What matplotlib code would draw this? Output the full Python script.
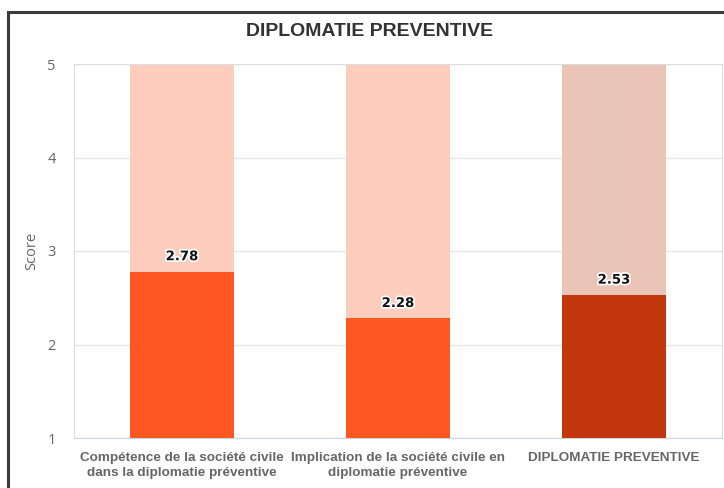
import matplotlib
matplotlib.use('Agg')
import matplotlib.pyplot as plt
import matplotlib.patheffects as pe
from matplotlib.patches import Rectangle

categories = [
    'Compétence de la société civile\ndans la diplomatie préventive',
    'Implication de la société civile en\ndiplomatie préventive',
    'DIPLOMATIE PREVENTIVE',
]
scores = [2.78, 2.28, 2.53]
score_max = 5
score_min = 1
bar_colors = ['#ff5722', '#ff5722', '#c1360c']
track_colors = ['#ffcdbd', '#ffcdbd', '#ebc4b8']
y_ticks = [1, 2, 3, 4, 5]

fig = plt.figure(figsize=(7.24, 4.88), dpi=100)
fig.patch.set_facecolor('white')

# outer frame around the chart
fig.patches.append(Rectangle((7.5 / 724, -0.05), 1.2, 1 - 12.5 / 488 + 0.05,
                             transform=fig.transFigure, fill=False,
                             edgecolor='#3a3a3a', linewidth=2.2, zorder=0))

ax = fig.add_axes([74 / 724, 1 - 438 / 488, (722 - 74) / 724, (438 - 64) / 488])

x = list(range(len(categories)))
width = 0.48
ax.bar(x, [score_max - score_min] * len(x), width, bottom=score_min,
       color=track_colors, zorder=2)
ax.bar(x, [s - score_min for s in scores], width, bottom=score_min,
       color=bar_colors, zorder=3)

for xi, s in zip(x, scores):
    ax.annotate(f'{s:.2f}', (xi, s), xytext=(0, 6), textcoords='offset points',
                ha='center', va='bottom', fontsize=9.5, fontweight='bold',
                family='DejaVu Sans', color='#111111', zorder=5,
                path_effects=[pe.withStroke(linewidth=2.5, foreground='white')])

ax.set_xlim(-0.5, len(x) - 0.5)
ax.set_ylim(score_min, score_max)
ax.set_yticks(y_ticks)
ax.set_yticklabels([str(t) for t in y_ticks], family='Open Sans',
                   fontsize=10.5, color='#666666')
ax.tick_params(axis='y', length=0, pad=13)
ax.set_xticks(x)
ax.set_xticklabels(categories, family='Liberation Sans', fontweight='bold',
                   fontsize=9.7, color='#666666', linespacing=1.3)
ax.tick_params(axis='x', length=0, pad=10)
ax.set_ylabel('Score', family='Open Sans', fontsize=10.5, color='#666666',
              labelpad=6)

ax.grid(axis='y', color='#e6e6e6', linewidth=1, zorder=0)
ax.set_axisbelow(True)
for side in ['left', 'top', 'right']:
    ax.spines[side].set_color('#dddddd')
ax.spines['bottom'].set_color('#ccd6eb')

fig.text(370 / 724, 1 - 32 / 488, 'DIPLOMATIE PREVENTIVE', ha='center',
         va='center', family='Liberation Sans', fontweight='bold',
         fontsize=14, color='#333333')

fig.savefig('out.png', dpi=100)
